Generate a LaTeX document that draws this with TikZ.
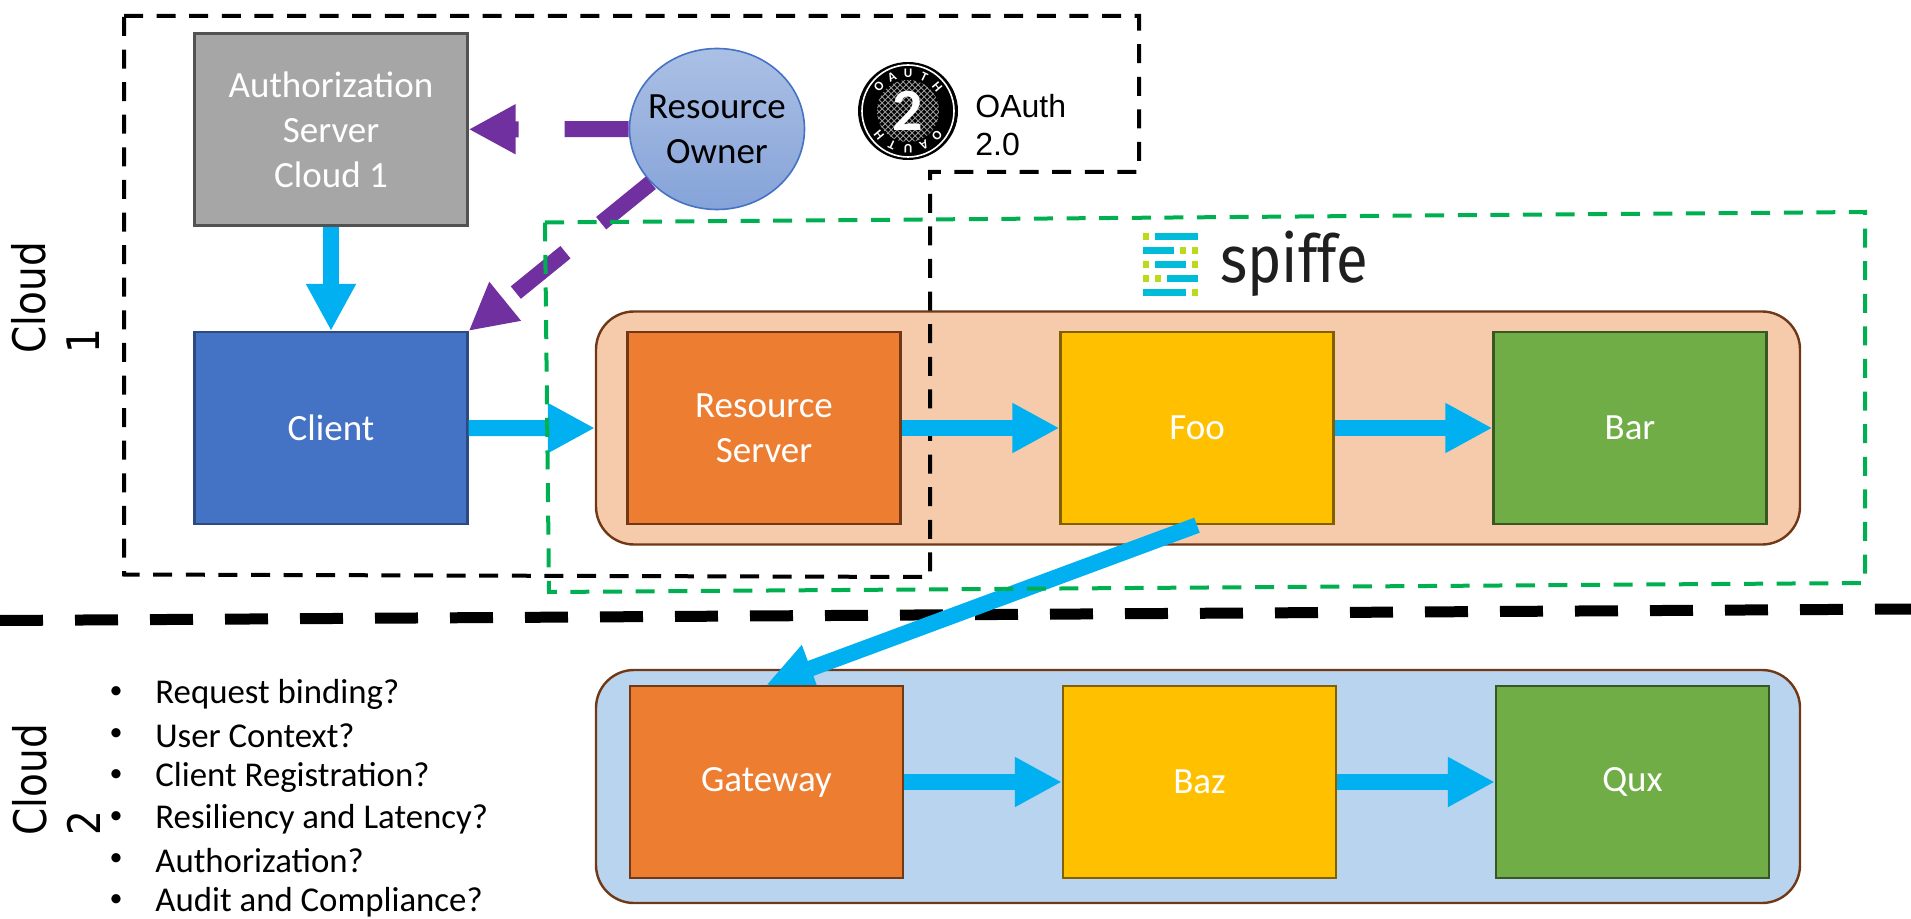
\documentclass[tikz,border=0pt]{standalone}
\usepackage{fontspec}
\setmainfont{Carlito}
\newfontfamily\cloudfont{DejaVu Sans}
\newfontfamily\oauthfont{Liberation Sans}
\newfontfamily\spiffefont{Fira Sans}
\usetikzlibrary{arrows.meta,positioning,shapes.geometric,patterns}
\definecolor{arrowblue}{HTML}{00B0F0}
\definecolor{arrowpurple}{HTML}{7030A0}
\definecolor{zonegreen}{HTML}{00B050}
\definecolor{logocyan}{HTML}{00BCD9}
\definecolor{logolime}{HTML}{BCD91C}
\definecolor{boxblue}{HTML}{4472C4}
\definecolor{boxorange}{HTML}{ED7D31}
\definecolor{boxyellow}{HTML}{FFC000}
\definecolor{boxgreen}{HTML}{70AD47}
\definecolor{peachfill}{HTML}{F6CBAC}
\definecolor{skyfill}{HTML}{B8D4EE}
\definecolor{brownline}{HTML}{703814}
\pgfdeclarelayer{front}
\pgfsetlayers{main,front}
\tikzset{
box/.style={draw,line width=1.2pt,minimum width=136.5pt,minimum height=96pt,inner sep=0pt,align=center,text=white,font=\fontsize{18.5}{22.5}\selectfont},
greybox/.style={box,fill=black!35,draw=black!68},
bluebox/.style={box,fill=boxblue,draw=boxblue!65!black},
orangebox/.style={box,fill=boxorange,draw=brownline},
yellowbox/.style={box,fill=boxyellow,draw=boxyellow!50!black},
greenbox/.style={box,fill=boxgreen,draw=boxgreen!50!black},
container/.style={draw=brownline,line width=1.2pt,rounded corners=19pt,minimum width=602pt,minimum height=116.5pt,inner sep=0pt},
bluearrow/.style={-{Triangle[length=23.5pt,width=23.5pt]},line width=8pt,arrowblue},
purplearrow/.style={-{Triangle[length=23.5pt,width=23.5pt]},line width=8pt,arrowpurple,dash pattern=on 32pt off 23pt},
zoneline/.style={line width=2pt,dash pattern=on 9.5pt off 6.8pt},
bulletitem/.style={anchor=west,inner sep=0pt,font=\fontsize{17.4}{20}\selectfont},
cloudlabel/.style={xscale=1.15,rotate=90,anchor=south west,align=left,inner sep=0pt,font=\cloudfont\fontsize{19.5}{23.5}\selectfont},
badgeletter/.style={text=white,inner sep=0pt,font=\fontsize{6.5}{6.5}\bfseries\selectfont},
}

\begin{document}
\begin{tikzpicture}[x=0.5pt,y=-0.5pt,on grid,node distance=216.5pt]
   \useasboundingbox (0,0) rectangle (1911,919);
   % boxes cloud 1
   \node[container,fill=peachfill] (peach) at (1198,428) {};
   \node[greybox] (authserver) at (331,129.5) {Authorization\\Server\\Cloud 1};
   \node[bluebox] (client) [below=149.3pt of authserver] {Client};
   \node[orangebox] (resserver) at (764,428) {Resource\\Server};
   \node[yellowbox] (foo) [right=of resserver] {Foo};
   \node[greenbox] (bar) [right=of foo] {Bar};
   % boxes cloud 2
   \node[container,fill=skyfill] (lightblue) at (1198,786.5) {};
   \begin{pgfonlayer}{front}
   \node[orangebox] (gateway) at (766.5,782) {Gateway};
   \end{pgfonlayer}
   \node[yellowbox] (baz) [right=of gateway] {Baz};
   \node[greenbox] (qux) [right=of baz] {Qux};
   \node[ellipse,draw=boxblue,line width=0.8pt,top color=boxblue!45!white,bottom color=boxblue!65!white,minimum width=87.5pt,minimum height=80.5pt,inner xsep=-5.5pt,inner ysep=-2pt,align=center,font=\fontsize{18.5}{22.5}\selectfont] (owner) at (717,129) {Resource\\Owner};
   % purple arrows
   \draw[purplearrow] (owner) -- (authserver);
   \draw[purplearrow] (owner) -- (client.north east);
   % black zone and divider
   \coordinate (z1) at (124,16);
   \coordinate (z2) at (1139,16);
   \coordinate (z3) at (1139,172);
   \coordinate (z4) at (930,172);
   \coordinate (z5) at (930,577);
   \coordinate (z6) at (124,574.5);
   \draw[zoneline] (z1) -- (z2) -- (z3) -- (z4) -- (z5) -- (z6) -- cycle;
   \coordinate (d1) at (0,620.5);
   \coordinate (d2) at (1911,609);
   \draw[line width=5.5pt,dash pattern=on 21.5pt off 16pt] (d1) -- (d2);
   % blue arrows
   \draw[bluearrow] (authserver) -- (client);
   \draw[bluearrow] (client) -- (peach);
   \draw[bluearrow] (resserver) -- (foo);
   \draw[bluearrow] (foo) -- (bar);
   \draw[bluearrow] (foo.south) -- (gateway.north);
   \draw[bluearrow] (gateway) -- (baz);
   \draw[bluearrow] (baz) -- (qux);
   % green zone on top
   \coordinate (g1) at (545,222.5);
   \coordinate (g2) at (1865,212);
   \coordinate (g3) at (1865,583);
   \coordinate (g4) at (549,592);
   \draw[zoneline,zonegreen] (g1) -- (g2) -- (g3) -- (g4) -- cycle;
   % labels
   \node[cloudlabel] (cloudone) at (100,354) {Cloud\\1};
   \node[cloudlabel] (cloudtwo) at (101,836) {Cloud\\2};
   \node[anchor=north west,inner sep=0pt,align=left,font=\oauthfont\fontsize{16}{19}\selectfont] (oauthtext) at (975,94) {OAuth\\2.0};
   \foreach \i/\t in {694/Request binding?,736/User Context?,777/Client Registration?,819/Resiliency and Latency?,861/Authorization?,902/Audit and Compliance?}{
      \node[inner sep=0pt,font=\fontsize{13}{13}\selectfont] (bul\i) at (116,\i-1) {\textbullet};
      \node[bulletitem] (item\i) at (155,\i) {\t};
   }
   % oauth badge
   \fill (908,111) ellipse [x radius=50,y radius=49];
   \draw[white,line width=0.8pt] (908,111) circle [radius=46];
   \fill[pattern=crosshatch,pattern color=white!60!black] (908,111) circle [radius=31];
   \node[text=white,inner sep=0pt,font=\fontsize{30}{30}\bfseries\selectfont] (two) at (908,111) {2};
   \foreach \l/\a in {O/-140,A/-115,U/-90,T/-65,H/-40}{
      \node[badgeletter,rotate=-\a-90] (top\l) at ({908+38*cos(\a)},{111+38*sin(\a)}) {\l};
      \node[badgeletter,rotate=-\a+90] (bot\l) at ({908-38*cos(\a)},{111-38*sin(\a)}) {\l};
   }
   % spiffe logo
   \foreach \xa/\xb/\ya/\c in {1143/1149/233/logolime,1155/1198/233/logocyan,
      1143/1173.5/247/logocyan,1179.6/1185.7/247/logolime,1191.5/1198/247/logolime,
      1143/1149/261/logolime,1155/1185.7/261/logocyan,1191.5/1198/261/logolime,
      1143/1149/275/logolime,1155/1161/275/logolime,1167.3/1198/275/logocyan,
      1143/1185.7/289/logocyan,1191.5/1198/289/logolime}
      \fill[\c] (\xa,\ya) rectangle (\xb,\ya+7.5);
   \node[xscale=0.88,anchor=base west,inner sep=0pt,text=black!88,font=\spiffefont\fontsize{33}{33}\selectfont] (spiffe) at (1220,283) {spiffe};
\end{tikzpicture}
\end{document}
